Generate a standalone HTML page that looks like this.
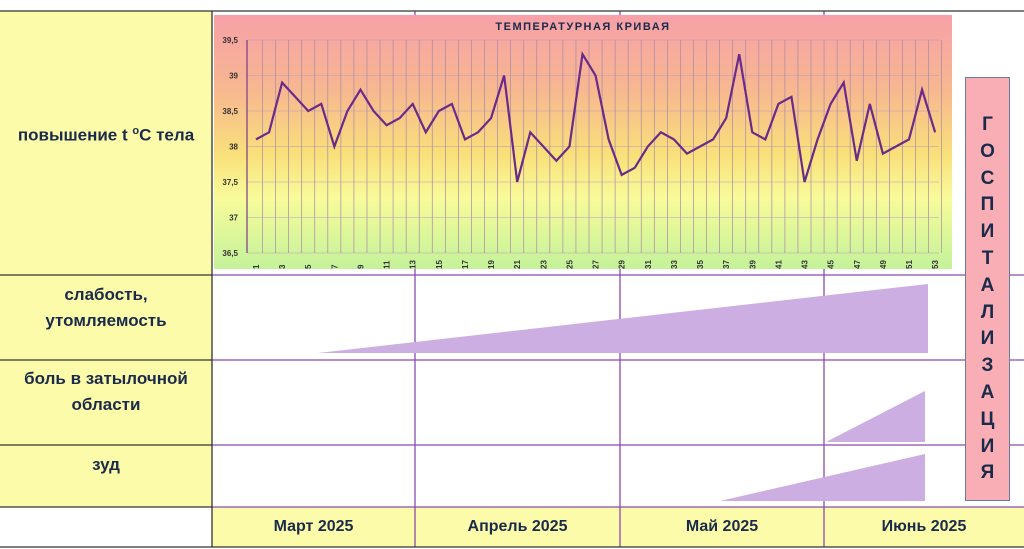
<!DOCTYPE html>
<html><head><meta charset="utf-8"><style>
body{margin:0;width:1024px;height:549px;overflow:hidden;background:#fff;font-family:"Liberation Sans","Noto Sans CJK SC",sans-serif;position:relative}
.a{position:absolute}
.lbl{position:absolute;left:0;width:212px;text-align:center;font-weight:bold;font-size:17px;color:#1a2a4a;line-height:26px}
.mon{position:absolute;top:507px;height:40px;line-height:40px;text-align:center;font-weight:bold;font-size:16px;color:#1a2a4a;background:#fbfbaa}
</style></head><body>
<div class="a" style="left:0;top:11px;width:212px;height:496px;background:#fbfbaa"></div>
<div class="mon" style="left:212px;width:203px">Март 2025</div>
<div class="mon" style="left:415px;width:205px">Апрель 2025</div>
<div class="mon" style="left:620px;width:204px">Май 2025</div>
<div class="mon" style="left:824px;width:200px">Июнь 2025</div>
<svg class="a" style="left:0;top:0" width="1024" height="549">
<g stroke="#8a4bb0" stroke-width="1.3">
<line x1="415" y1="11" x2="415" y2="547"/><line x1="620" y1="11" x2="620" y2="547"/><line x1="824" y1="11" x2="824" y2="547"/>
<line x1="212" y1="275" x2="1024" y2="275"/><line x1="212" y1="360" x2="1024" y2="360"/><line x1="212" y1="445" x2="1024" y2="445"/><line x1="212" y1="507" x2="1024" y2="507"/>
</g>
<g stroke="#333" stroke-width="1.3">
<line x1="0" y1="11" x2="1024" y2="11"/><line x1="212" y1="11" x2="212" y2="547"/>
<line x1="0" y1="275" x2="212" y2="275"/><line x1="0" y1="360" x2="212" y2="360"/><line x1="0" y1="445" x2="212" y2="445"/><line x1="0" y1="507" x2="212" y2="507"/>
<line x1="0" y1="547" x2="1024" y2="547"/>
</g>
<g fill="#cdaee2">
<polygon points="318,353 928,284 928,353"/>
<polygon points="826,442 925,391 925,442"/>
<polygon points="720,501 925,454 925,501"/>
</g>
</svg>
<div class="lbl" style="top:118px">повышение t <sup style="font-size:11px">o</sup>C тела</div>
<div class="lbl" style="top:282px">слабость,<br>утомляемость</div>
<div class="lbl" style="top:366px">боль в затылочной<br>области</div>
<div class="lbl" style="top:452px">зуд</div>
<div class="a" style="left:965px;top:77px;width:45px;height:424px;background:#f8aeb4;border:1px solid #6a7a9a;text-align:center;font-weight:bold;font-size:19px;color:#1a2a4a;line-height:26.8px;padding-top:34px;box-sizing:border-box;overflow:hidden">Г<br>О<br>С<br>П<br>И<br>Т<br>А<br>Л<br>И<br>З<br>А<br>Ц<br>И<br>Я</div>
<svg class="a" id="chart" style="left:214px;top:15px" width="738" height="254">
<defs><linearGradient id="bg" x1="0" y1="0" x2="0" y2="1">
<stop offset="0" stop-color="#f7a0a8"/><stop offset="0.3" stop-color="#f7b890"/><stop offset="0.55" stop-color="#f9e07a"/><stop offset="0.72" stop-color="#f8fb9a"/><stop offset="1" stop-color="#c4f29a"/></linearGradient></defs>
<rect width="738" height="254" fill="url(#bg)"/>
<text x="369" y="15" text-anchor="middle" font-size="11" font-weight="bold" fill="#1a2a4a" letter-spacing="1.5">ТЕМПЕРАТУРНАЯ КРИВАЯ</text>
<g id="g"></g>
</svg>
<script>
const days=[];for(let i=1;i<=53;i++)days.push(i);
const temps=[38.1,38.2,38.9,38.7,38.5,38.6,38.0,38.5,38.8,38.5,38.3,38.4,38.6,38.2,38.5,38.6,38.1,38.2,38.4,39.0,37.5,38.2,38.0,37.8,38.0,39.3,39.0,38.1,37.6,37.7,38.0,38.2,38.1,37.9,38.0,38.1,38.4,39.3,38.2,38.1,38.6,38.7,37.5,38.1,38.6,38.9,37.8,38.6,37.9,38.0,38.1,38.8,38.2];
const yTicks=[36.5,37,37.5,38,38.5,39,39.5];
const yLabels=["36,5","37","37,5","38","38,5","39","39,5"];
const ns="http://www.w3.org/2000/svg",g=document.getElementById('g');
const X=d=>42+(d-1)*13.06, Y=v=>25+(39.5-v)*71;
function mk(t,a){const e=document.createElementNS(ns,t);for(const k in a)e.setAttribute(k,a[k]);g.appendChild(e);return e;}
yTicks.forEach((v,i)=>{
 const l=mk('line',{x1:33,x2:725,y1:Y(v),y2:Y(v),stroke:'#b79ab8','stroke-width':0.6});
 
 
 const t=mk('text',{x:24,y:Y(v)+3,'text-anchor':'end','font-size':8,'font-weight':'bold',fill:'#333'});t.textContent=yLabels[i];
 
 
});
days.forEach(d=>{
 const l=mk('line',{x1:X(d)+6.5,x2:X(d)+6.5,y1:Y(39.5),y2:Y(36.5),stroke:'#a98aa8','stroke-width':0.7});
 
 
 if(d%2){const t=mk('text',{x:0,y:0,'font-size':8,'font-weight':'bold',fill:'#333',transform:`translate(${X(d)+3},${Y(36.5)+16}) rotate(-90)`});t.textContent=d;
 
 }
});
const ax=mk('line',{x1:33,x2:33,y1:Y(39.5),y2:Y(36.5),stroke:'#7a3a8a','stroke-width':1.2});


const p=mk('polyline',{points:temps.map((v,i)=>X(days[i])+','+Y(v)).join(' '),fill:'none',stroke:'#6a2a8a','stroke-width':2.2,'stroke-linejoin':'miter'});


</script>
</body></html>
